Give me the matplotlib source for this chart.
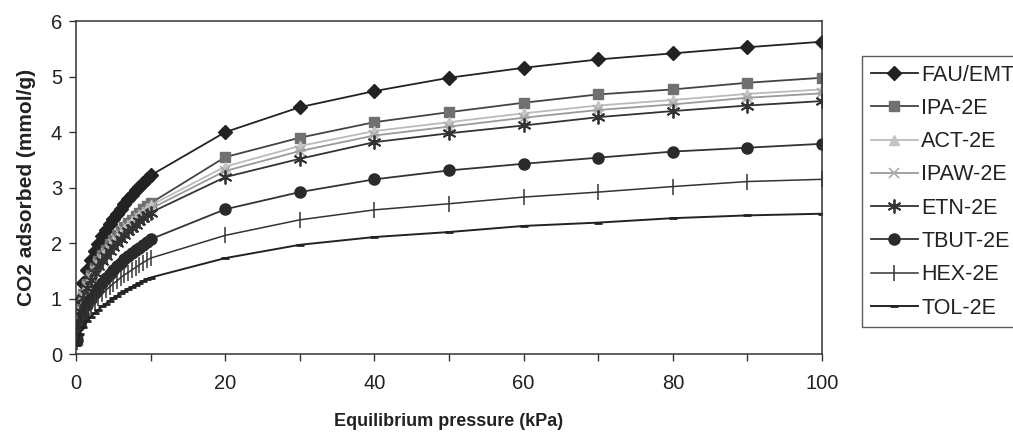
import matplotlib.pyplot as plt
from matplotlib.ticker import MultipleLocator

plt.rcParams['font.family'] = ['Liberation Sans', 'DejaVu Sans']

# pressure points (kPa)
p = [0.1, 0.5, 1, 1.5, 2, 2.5, 3, 3.5, 4, 4.5, 5, 5.5, 6, 6.5, 7, 7.5, 8, 8.5, 9, 9.5, 10,
     20, 30, 40, 50, 60, 70, 80, 90, 100]

# CO2 adsorbed (mmol/g)
fau = [0.51, 0.97, 1.28, 1.51, 1.69, 1.85, 1.99, 2.12, 2.23, 2.34, 2.44, 2.53, 2.62, 2.71, 2.79, 2.87, 2.95, 3.02, 3.09, 3.16, 3.22,
       4.00, 4.45, 4.74, 4.98, 5.16, 5.31, 5.42, 5.53, 5.63]
ipa = [0.25, 0.82, 1.08, 1.27, 1.43, 1.56, 1.68, 1.79, 1.88, 1.98, 2.06, 2.14, 2.22, 2.29, 2.36, 2.42, 2.49, 2.55, 2.61, 2.67, 2.72,
       3.55, 3.90, 4.18, 4.36, 4.53, 4.68, 4.77, 4.89, 4.98]
act = [0.40, 0.81, 1.07, 1.25, 1.41, 1.54, 1.66, 1.76, 1.86, 1.95, 2.03, 2.11, 2.18, 2.26, 2.32, 2.39, 2.45, 2.51, 2.57, 2.63, 2.68,
       3.38, 3.75, 4.02, 4.18, 4.34, 4.48, 4.58, 4.69, 4.77]
ipaw = [0.41, 0.79, 1.04, 1.23, 1.38, 1.50, 1.62, 1.72, 1.82, 1.90, 1.99, 2.06, 2.14, 2.21, 2.27, 2.33, 2.40, 2.45, 2.51, 2.57, 2.62,
        3.30, 3.66, 3.94, 4.10, 4.26, 4.40, 4.50, 4.62, 4.70]
etn = [0.40, 0.77, 1.01, 1.19, 1.34, 1.46, 1.58, 1.68, 1.77, 1.85, 1.93, 2.01, 2.08, 2.15, 2.21, 2.27, 2.33, 2.39, 2.45, 2.50, 2.55,
       3.19, 3.52, 3.82, 3.98, 4.12, 4.27, 4.38, 4.48, 4.56]
tbut = [0.26, 0.54, 0.73, 0.88, 1.00, 1.11, 1.20, 1.29, 1.37, 1.44, 1.52, 1.58, 1.65, 1.71, 1.76, 1.82, 1.87, 1.92, 1.97, 2.02, 2.07,
        2.61, 2.92, 3.15, 3.31, 3.43, 3.54, 3.65, 3.72, 3.79]
hexa = [0.22, 0.45, 0.61, 0.74, 0.84, 0.93, 1.01, 1.08, 1.15, 1.21, 1.27, 1.32, 1.38, 1.43, 1.47, 1.52, 1.56, 1.61, 1.65, 1.69, 1.73,
        2.14, 2.42, 2.60, 2.71, 2.83, 2.92, 3.02, 3.11, 3.15]
tol = [0.17, 0.36, 0.49, 0.59, 0.67, 0.74, 0.80, 0.86, 0.91, 0.96, 1.01, 1.05, 1.10, 1.14, 1.18, 1.21, 1.25, 1.28, 1.32, 1.35, 1.38,
       1.73, 1.97, 2.11, 2.20, 2.31, 2.37, 2.45, 2.50, 2.53]

labels = ['FAU/EMT', 'IPA-2E', 'ACT-2E', 'IPAW-2E', 'ETN-2E', 'TBUT-2E', 'HEX-2E', 'TOL-2E']

fig = plt.figure(figsize=(10.13, 4.41), dpi=100)
ax = fig.add_axes([0.075, 0.197, 0.7365, 0.755])

ax.plot(p, fau, color='#222222', lw=1.3, marker='D', ms=7, mfc='#222222', mec='#222222')
ax.plot(p, ipa, color='#444444', lw=1.3, marker='s', ms=7.5, mfc='#707070', mec='#707070')
ax.plot(p, act, color='#bbbbbb', lw=1.3, marker='^', ms=7.5, mfc='#c4c4c4', mec='#c4c4c4')
ax.plot(p, ipaw, color='#9a9a9a', lw=1.3, marker='x', ms=7.5, mew=1.2, mfc='#aaaaaa', mec='#aaaaaa')
ax.plot(p, etn, color='#333333', lw=1.3, marker=(6, 2, 0), ms=10, mew=1.3, mec='#333333')
ax.plot(p, tbut, color='#333333', lw=1.3, marker='o', ms=8, mfc='#2a2a2a', mec='#2a2a2a')
ax.plot(p, hexa, color='#333333', lw=1.1, marker='|', ms=11, mew=1.1, mec='#333333')
ax.plot(p, tol, color='#222222', lw=1.4, marker='_', ms=6, mew=2, mec='#222222')

ax.set_xlim(0, 100)
ax.set_ylim(0, 6)
ax.xaxis.set_major_locator(MultipleLocator(20))
ax.xaxis.set_minor_locator(MultipleLocator(10))
ax.yaxis.set_major_locator(MultipleLocator(1))
ax.tick_params(which='both', direction='out', length=5, width=1, colors='#333333',
               labelsize=14.5, labelcolor='#222222')
ax.tick_params(axis='x', pad=9)
ax.tick_params(axis='y', pad=5)
for s in ax.spines.values():
    s.set_color('#333333')
    s.set_linewidth(1.1)

ax.set_xlabel('Equilibrium pressure (kPa)', fontsize=13, fontweight='bold', labelpad=15, color='#222222')
ax.set_ylabel('CO2 adsorbed (mmol/g)', fontsize=15, fontweight='bold', labelpad=11, color='#222222')

leg = fig.legend(ax.get_lines(), labels, loc='upper left', bbox_to_anchor=(862 / 1013, 1 - 56 / 441),
                 fontsize=15.5, frameon=True, fancybox=False, edgecolor='#333333', borderpad=0.4,
                 labelspacing=0.57, handlelength=2.2, handletextpad=0.15, borderaxespad=0)
leg.get_frame().set_linewidth(1.0)
for t in leg.get_texts():
    t.set_color('#222222')

plt.savefig('out.png', dpi=100)
